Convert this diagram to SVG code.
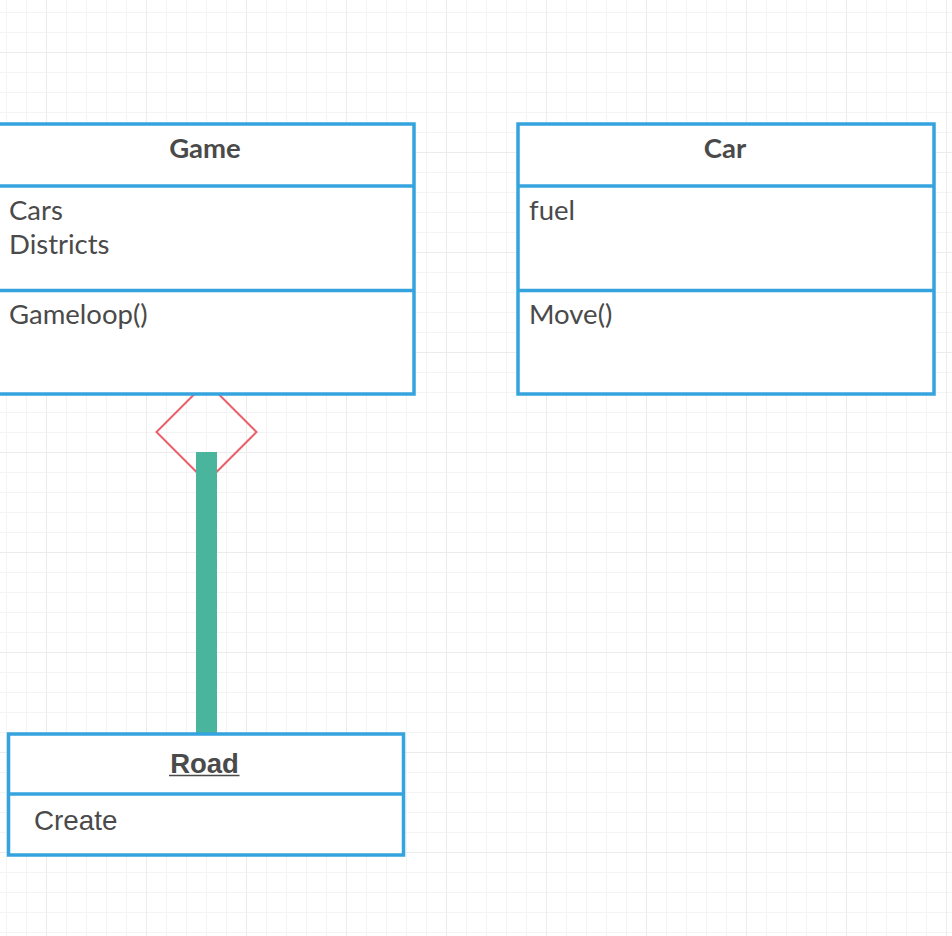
<svg xmlns="http://www.w3.org/2000/svg" width="952" height="936" viewBox="0 0 952 936">
  <defs>
    <pattern id="minor" x="6" y="12" width="20" height="20" patternUnits="userSpaceOnUse">
      <path d="M0.5 0 V20 M0 0.5 H20" fill="none" stroke="#f4f4f4" stroke-width="1"/>
    </pattern>
    <pattern id="major" x="46" y="52" width="100" height="100" patternUnits="userSpaceOnUse">
      <path d="M0.5 0 V100 M0 0.5 H100" fill="none" stroke="#ececec" stroke-width="1"/>
    </pattern>
  </defs>
  <style>
    .box { fill: #ffffff; stroke: #35a4de; stroke-width: 3.5; }
    .div { stroke: #35a4de; stroke-width: 3.5; }
    .title { font-family: Lato, "Liberation Sans", sans-serif; font-weight: bold; font-size: 27.5px; fill: #4a4a4a; text-anchor: middle; }
    .attr { font-family: Lato, "Liberation Sans", sans-serif; font-size: 27.5px; fill: #4a4a4a; }
    .rtitle { font-family: "Liberation Sans", Arial, sans-serif; font-weight: bold; font-size: 27.5px; fill: #4a4a4a; text-anchor: middle; }
    .rattr { font-family: "Liberation Sans", Arial, sans-serif; font-size: 27.8px; fill: #4a4a4a; }
  </style>
  <rect x="0" y="0" width="952" height="936" fill="#ffffff"/>
  <rect x="0" y="0" width="952" height="936" fill="url(#minor)"/>
  <rect x="0" y="0" width="952" height="936" fill="url(#major)"/>

  <g id="connectors">
    <polygon points="206.5,382 256.5,432 206.5,482 156.5,432" fill="none" stroke="#e8606a" stroke-width="2"/>
    <rect x="196" y="452" width="21" height="282" fill="#4ab59d"/>
  </g>

  <g id="game">
    <rect class="box" x="-2" y="124" width="416" height="270"/>
    <line class="div" x1="-2" y1="186" x2="414" y2="186"/>
    <line class="div" x1="-2" y1="290.5" x2="414" y2="290.5"/>
    <text class="title" x="205" y="158">Game</text>
    <text class="attr" x="9" y="219.5">Cars</text>
    <text class="attr" x="9" y="253.5">Districts</text>
    <text class="attr" x="9" y="323.5">Gameloop()</text>
  </g>

  <g id="car">
    <rect class="box" x="518" y="124" width="416" height="270"/>
    <line class="div" x1="518" y1="186" x2="934" y2="186"/>
    <line class="div" x1="518" y1="290.5" x2="934" y2="290.5"/>
    <text class="title" x="725" y="158">Car</text>
    <text class="attr" x="529" y="219.5">fuel</text>
    <text class="attr" x="529" y="323.5">Move()</text>
  </g>

  <g id="road">
    <rect class="box" x="8.5" y="734" width="395" height="121"/>
    <line class="div" x1="8.5" y1="794" x2="403.5" y2="794"/>
    <text class="rtitle" x="204.5" y="772.5">Road</text>
    <line x1="169" y1="775.5" x2="239.5" y2="775.5" stroke="#4a4a4a" stroke-width="1.5"/>
    <text class="rattr" x="34" y="829.5">Create</text>
  </g>
</svg>
